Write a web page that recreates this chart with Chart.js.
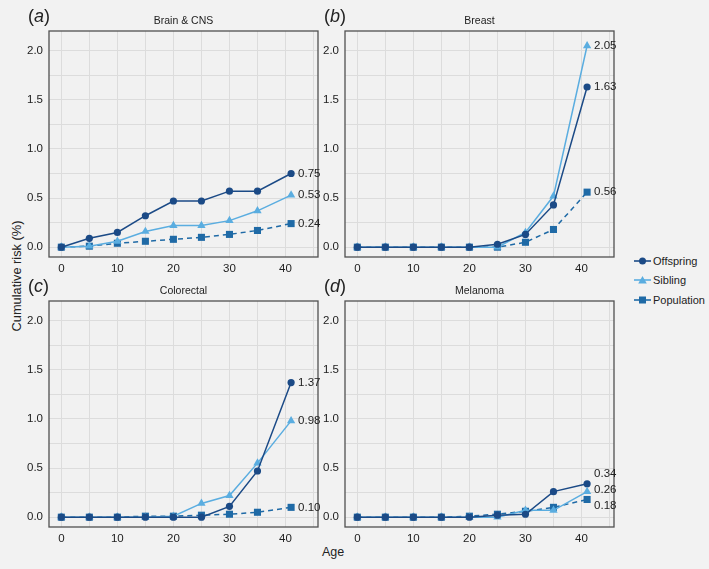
<!DOCTYPE html>
<html>
<head>
<meta charset="utf-8">
<script src="https://cdn.jsdelivr.net/npm/chart.js@4.4.1/dist/chart.umd.min.js"></script>
<style>
  body { margin: 0; background: #f2f2f2; font-family: "Liberation Sans", Arial, sans-serif; color: #222; }
  #wrap { position: relative; width: 709px; height: 569px; overflow: hidden; }
  .box { position: absolute; }
  .letter { position: absolute; font-size: 18px; }
  .title { position: absolute; font-size: 10.5px; text-align: center; width: 269px; }
  .ylab { position: absolute; left: 16px; top: 276px; font-size: 12.8px; transform: translate(-50%, -50%) rotate(-90deg); white-space: nowrap; }
  .xlab { position: absolute; left: 333px; top: 545px; font-size: 12.5px; transform: translateX(-50%); }
  .legend { position: absolute; left: 634px; top: 251px; font-size: 11px; }
  .legend div { height: 19.5px; display: flex; align-items: center; }
  .legend svg { margin-right: 2px; }
</style>
</head>
<body>
<div id="wrap">
  <div class="ylab">Cumulative risk (%)</div>
  <div class="xlab">Age</div>
  <div class="legend">
    <div><svg width="17" height="10"><line x1="0" y1="5" x2="17" y2="5" stroke="#1b4a86" stroke-width="1.6"/><circle cx="8.5" cy="5" r="3.5" fill="#1b4a86"/></svg>Offspring</div>
    <div><svg width="17" height="10"><line x1="0" y1="5" x2="17" y2="5" stroke="#5aade0" stroke-width="1.6"/><polygon points="8.5,1 12.8,8.5 4.2,8.5" fill="#5aade0"/></svg>Sibling</div>
    <div><svg width="17" height="10"><line x1="0" y1="5" x2="17" y2="5" stroke="#1f6aa6" stroke-width="1.6"/><rect x="5" y="1.5" width="7" height="7" fill="#1f6aa6"/></svg>Population</div>
  </div>
</div>
<script>
// ages (x values) shared by all panels
const ages = [0, 5, 10, 15, 20, 25, 30, 35, 41];
const xTickValues = [0, 5, 10, 15, 20, 25, 30, 35, 40, 45];
const xTickLabels = [0, 10, 20, 30, 40];
const yTickValues = [0, 0.25, 0.5, 0.75, 1, 1.25, 1.5, 1.75, 2];
const yTickLabels = [0, 0.5, 1, 1.5, 2];

const seriesNames = ["Offspring", "Sibling", "Population"];
const panelLetters = ["a", "b", "c", "d"];
const panelTitles = ["Brain & CNS", "Breast", "Colorectal", "Melanoma"];

// cumulative risk (%) per panel
const brainOffspring = [0, 0.09, 0.15, 0.32, 0.47, 0.47, 0.57, 0.57, 0.75];
const brainSibling = [0, 0.01, 0.06, 0.16, 0.22, 0.22, 0.27, 0.37, 0.53];
const brainPopulation = [0, 0.01, 0.04, 0.06, 0.08, 0.10, 0.13, 0.17, 0.24];

const breastOffspring = [0, 0, 0, 0, 0, 0.03, 0.13, 0.43, 1.63];
const breastSibling = [0, 0, 0, 0, 0, 0.00, 0.15, 0.52, 2.05];
const breastPopulation = [0, 0, 0, 0, 0, 0, 0.05, 0.18, 0.56];

const colorectalOffspring = [0, 0, 0, 0, 0, 0, 0.11, 0.47, 1.37];
const colorectalSibling = [0, 0, 0, 0, 0.01, 0.14, 0.22, 0.55, 0.98];
const colorectalPopulation = [0, 0, 0, 0.01, 0.01, 0.02, 0.03, 0.05, 0.10];

const melanomaOffspring = [0, 0, 0, 0, 0, 0.02, 0.03, 0.26, 0.34];
const melanomaSibling = [0, 0, 0, 0, 0, 0, 0.07, 0.07, 0.26];
const melanomaPopulation = [0, 0, 0, 0, 0.01, 0.03, 0.06, 0.10, 0.18];

const panelData = [
  [brainOffspring, brainSibling, brainPopulation],
  [breastOffspring, breastSibling, breastPopulation],
  [colorectalOffspring, colorectalSibling, colorectalPopulation],
  [melanomaOffspring, melanomaSibling, melanomaPopulation]
];

// styling / layout
const colors = ["#1b4a86", "#5aade0", "#1f6aa6"];
const pointStyles = ["circle", "triangle", "rect"];
const pointSizes = [3.6, 4.8, 5];
const plotPos = [[49, 31], [345, 31], [49, 301], [345, 301]];
const plotW = 269, plotH = 226;
// pixel nudges of end labels (melanoma labels are spread apart)
const labelShift = [[0, 0, 0], [0, 0, 0], [0, 0, 0], [-10, -2, 6]];

const wrap = document.getElementById("wrap");

const boxPlugin = {
  id: "box",
  beforeDraw(chart) {
    const a = chart.chartArea, ctx = chart.ctx;
    ctx.save();
    ctx.fillStyle = "#f1f1f1";
    ctx.fillRect(a.left, a.top, a.right - a.left, a.bottom - a.top);
    ctx.restore();
  },
  afterDraw(chart) {
    const a = chart.chartArea, ctx = chart.ctx;
    ctx.save();
    ctx.strokeStyle = "#505050";
    ctx.lineWidth = 1.3;
    ctx.strokeRect(a.left, a.top, a.right - a.left, a.bottom - a.top);
    // end-value labels
    const p = chart.options.plugins.box.panel;
    ctx.font = "11.5px 'Liberation Sans', Arial, sans-serif";
    ctx.fillStyle = "#222";
    ctx.textBaseline = "middle";
    chart.data.datasets.forEach((ds, i) => {
      const last = ds.data[ds.data.length - 1];
      const x = chart.scales.x.getPixelForValue(last.x) + 7;
      const y = chart.scales.y.getPixelForValue(last.y) + labelShift[p][i];
      ctx.fillText(last.y.toFixed(2), x, y);
    });
    ctx.restore();
  }
};

panelData.forEach((series, p) => {
  const [pl, pt] = plotPos[p];
  const box = document.createElement("div");
  box.className = "box";
  box.style.left = (pl - 49) + "px";
  box.style.top = (pt - 31) + "px";
  box.style.width = (plotW + 49 + 14) + "px";
  box.style.height = (plotH + 31 + 28) + "px";
  const canvas = document.createElement("canvas");
  box.appendChild(canvas);
  wrap.appendChild(box);

  const letter = document.createElement("div");
  letter.className = "letter";
  letter.style.left = (pl - 21) + "px";
  letter.style.top = (pt - 25) + "px";
  letter.innerHTML = "(<i>" + panelLetters[p] + "</i>)";
  wrap.appendChild(letter);

  const title = document.createElement("div");
  title.className = "title";
  title.style.left = pl + "px";
  title.style.top = (pt - 17) + "px";
  title.textContent = panelTitles[p];
  wrap.appendChild(title);

  new Chart(canvas, {
    type: "line",
    data: {
      datasets: series.map((vals, i) => ({
        label: seriesNames[i],
        data: ages.map((a, k) => ({ x: a, y: vals[k] })),
        borderColor: colors[i],
        backgroundColor: colors[i],
        borderWidth: 1.5,
        borderDash: i === 2 ? [5, 4] : [],
        pointStyle: pointStyles[i],
        pointRadius: pointSizes[i],
        pointBorderWidth: 0,
        tension: 0,
        clip: false
      }))
    },
    options: {
      animation: false,
      responsive: true,
      maintainAspectRatio: false,
      layout: { padding: { left: 13, top: 31, right: 14, bottom: 6 } },
      plugins: {
        legend: { display: false },
        tooltip: { enabled: false },
        box: { panel: p }
      },
      scales: {
        x: {
          type: "linear",
          min: -2.2,
          max: 45.8,
          afterBuildTicks: s => { s.ticks = xTickValues.map(v => ({ value: v })); },
          afterFit: s => { s.height = 22; },
          grid: { color: "#dcdcdc", lineWidth: 1, drawTicks: false },
          border: { display: false },
          ticks: {
            padding: 5,
            color: "#222",
            font: { family: "'Liberation Sans', Arial", size: 11.5 },
            maxRotation: 0,
            autoSkip: false,
            callback: v => xTickLabels.includes(v) ? String(v) : ""
          }
        },
        y: {
          type: "linear",
          min: -0.1,
          max: 2.2,
          afterBuildTicks: s => { s.ticks = yTickValues.map(v => ({ value: v })); },
          afterFit: s => { s.width = 36; },
          grid: { color: "#dcdcdc", lineWidth: 1, drawTicks: false },
          border: { display: false },
          ticks: {
            padding: 6,
            color: "#222",
            font: { family: "'Liberation Sans', Arial", size: 11.5 },
            autoSkip: false,
            callback: v => yTickLabels.includes(v) ? v.toFixed(1) : ""
          }
        }
      }
    },
    plugins: [boxPlugin]
  });
});
</script>
</body>
</html>
